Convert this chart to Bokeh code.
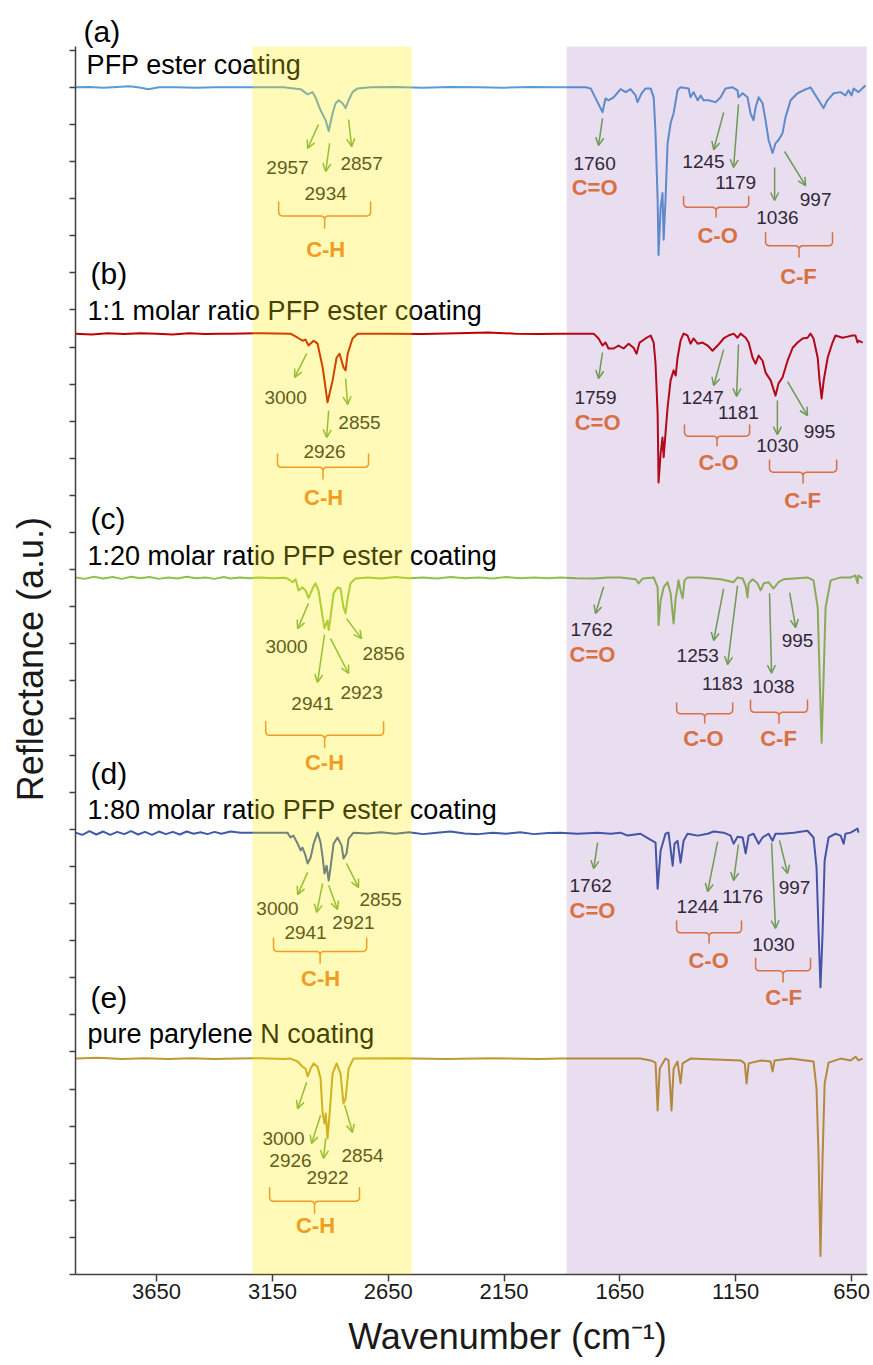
from bokeh.plotting import figure
from bokeh.models import Range1d, FixedTicker, BoxAnnotation, Arrow, OpenHead, Label, ColumnDataSource
from bokeh.core.properties import value
from bokeh.embed import file_html
from bokeh.resources import INLINE

# ---------------- data (wavenumber cm-1, reflectance a.u., each trace with baseline ~100) ----------------
trace_a = [(4000,100),(3940,100.1),(3880,99.9),(3820,100.1),(3771,100.3),(3730,100),(3685,99.5),(3640,100),(3560,100),(3480,99.9),(3400,100),(3331,100),(3250,100),(3170,100),(3102,100),(3028,99.5),(2998,98.1),(2977,98.7),(2964,97.3),(2942,93.8),(2920,91.1),(2907,88.2),(2890,93.0),(2877,95.7),(2864,96.5),(2847,95.7),(2834,94.4),(2821,96.5),(2804,98.7),(2782,99.7),(2726,100),(2620,100.1),(2500,99.9),(2380,100.1),(2260,100),(2150,99.9),(2030,100.1),(1940,100),(1880,100),(1798,100),(1776,99.7),(1725,93.3),(1712,97.0),(1699,96.5),(1677,97.3),(1647,99.5),(1625,98.7),(1604,99.5),(1582,97.8),(1574,96.0),(1556,98.4),(1539,99.7),(1517,99.7),(1504,97.3),(1496,87.6),(1487,69.6),(1483,54.8),(1474,67.7),(1466,71.5),(1461,58.9),(1453,69.6),(1444,84.9),(1431,90.3),(1418,93.0),(1401,99.2),(1388,100),(1353,99.7),(1345,97.3),(1332,98.7),(1314,96.5),(1301,97.8),(1289,96.5),(1267,96.5),(1237,96.0),(1215,97.3),(1194,99.7),(1163,100),(1142,99.2),(1138,97.3),(1120,98.4),(1099,97.3),(1086,93.0),(1073,91.1),(1064,94.6),(1051,97.3),(1034,95.7),(1021,91.1),(1008,85.8),(991,82.3),(978,84.9),(965,85.8),(948,87.6),(935,91.9),(913,96.5),(883,98.4),(857,99.2),(827,100),(814,98.7),(792,96.5),(771,94.4),(754,96.5),(727,98.4),(697,98.7),(676,97.8),(663,99.2),(650,97.8),(641,99.7),(620,98.7),(598,100),(590,100.5)]

trace_b = [(4000,100),(3930,99.8),(3860,100.1),(3790,99.9),(3720,100.1),(3650,100),(3580,99.8),(3510,100.1),(3440,99.9),(3370,100),(3331,100),(3200,100.1),(3072,100),(3041,98.9),(3020,98.1),(3007,98.4),(2994,96.8),(2972,98.1),(2955,97.3),(2933,90.9),(2912,81.5),(2890,87.4),(2873,93.5),(2860,94.6),(2843,90.9),(2834,90.1),(2825,94.6),(2804,98.7),(2782,100),(2650,100),(2500,99.9),(2350,100.1),(2221,100.3),(2100,100),(2000,99.9),(1906,100),(1763,100),(1742,98.7),(1725,96.8),(1712,97.6),(1699,96.0),(1677,96.0),(1656,96.8),(1634,96.0),(1612,97.3),(1591,96.2),(1578,94.6),(1565,97.6),(1539,98.7),(1517,99.5),(1504,97.6),(1496,91.9),(1487,78.5),(1483,59.9),(1474,67.7),(1466,72.0),(1461,66.7),(1453,73.1),(1444,80.1),(1431,87.4),(1418,90.1),(1409,88.7),(1401,93.5),(1388,98.1),(1375,100),(1358,99.5),(1345,97.3),(1332,98.7),(1314,97.3),(1293,97.6),(1271,96.8),(1250,95.4),(1228,96.8),(1202,98.7),(1181,99.5),(1159,100),(1142,98.9),(1129,100),(1107,98.9),(1094,97.6),(1077,93.5),(1064,91.9),(1051,94.1),(1034,92.7),(1021,89.5),(999,87.4),(978,83.3),(965,86.6),(948,88.2),(926,92.7),(904,96.2),(883,97.6),(861,98.7),(840,98.9),(827,100),(814,98.7),(796,93.5),(788,87.4),(779,82.5),(770,87.4),(753,93.5),(732,97.6),(719,99.5),(689,98.9),(667,99.2),(646,99.5),(633,99.5),(624,97.6),(620,98.1),(602,97.6)]

trace_c = [(4000,100),(3960,99.6),(3920,100.2),(3880,99.7),(3840,100.1),(3800,99.6),(3760,100.2),(3720,99.8),(3680,100.1),(3640,99.6),(3600,100),(3560,99.7),(3520,100.2),(3480,99.8),(3440,100),(3400,99.6),(3360,100.1),(3331,99.7),(3290,100),(3250,99.8),(3200,100),(3150,99.8),(3100,99.9),(3085,99.7),(3063,98.7),(3050,99.5),(3037,96.5),(3020,97.3),(3007,96.5),(2994,94.4),(2977,97.0),(2964,98.4),(2951,96.5),(2933,89.2),(2925,86.3),(2912,88.4),(2907,85.8),(2899,89.2),(2886,95.7),(2869,97.3),(2856,97.0),(2843,91.9),(2834,90.3),(2825,94.4),(2813,98.4),(2791,99.7),(2740,100),(2680,99.7),(2620,100.1),(2560,99.8),(2500,100),(2440,99.7),(2380,100.1),(2320,99.8),(2260,100),(2200,99.7),(2140,100.1),(2080,99.8),(2020,100),(1960,99.8),(1906,100),(1840,99.8),(1763,99.7),(1700,100),(1647,100),(1582,99.5),(1569,98.4),(1552,99.7),(1504,100),(1487,97.3),(1483,87.1),(1474,93.8),(1461,97.3),(1444,98.7),(1431,95.7),(1418,87.6),(1409,94.4),(1401,97.3),(1397,99.2),(1388,96.5),(1379,94.4),(1371,99.2),(1358,100),(1301,100),(1215,99.5),(1159,98.7),(1142,100),(1120,99.7),(1107,97.8),(1099,94.6),(1094,98.4),(1077,99.5),(1056,98.4),(1042,96.5),(1029,98.4),(1008,98.7),(987,97.0),(965,98.7),(943,99.5),(900,99.7),(840,100),(814,99.2),(796,91.9),(788,74.2),(779,55.4),(770,74.2),(762,91.9),(740,99.2),(697,100),(654,100),(633,100.5),(624,98.4),(620,100.5),(602,99.7)]

trace_d = [(4000,100),(3970,99.4),(3940,100.4),(3910,99.5),(3880,100.3),(3850,99.4),(3820,100.2),(3790,99.6),(3760,100.4),(3730,99.5),(3700,100.2),(3670,99.4),(3640,100.3),(3610,99.6),(3580,100.2),(3550,99.5),(3520,100.3),(3490,99.7),(3460,100.1),(3430,99.6),(3400,100.2),(3370,99.7),(3331,100.3),(3287,100),(3188,100),(3085,100),(3072,98.7),(3059,99.2),(3041,97.0),(3028,95.2),(3020,96.0),(3007,93.8),(2998,91.7),(2985,93.3),(2972,97.0),(2955,100),(2942,97.3),(2933,93.3),(2925,89.0),(2916,91.1),(2907,87.1),(2899,90.6),(2886,97.0),(2869,98.7),(2851,96.5),(2843,93.0),(2830,94.4),(2821,98.4),(2800,100),(2740,99.8),(2680,100.1),(2620,99.7),(2560,100.1),(2500,99.6),(2440,100),(2381,100.3),(2320,99.8),(2260,99.6),(2200,100),(2140,99.7),(2080,100.1),(2020,99.6),(1960,99.9),(1906,100),(1833,99.7),(1746,100),(1690,99.7),(1647,100),(1617,99.2),(1561,99.7),(1526,98.4),(1496,97.3),(1487,84.9),(1474,95.2),(1453,99.7),(1440,100),(1422,91.1),(1414,97.0),(1401,97.8),(1388,91.9),(1375,97.8),(1358,99.7),(1314,99.2),(1271,99.7),(1245,100.3),(1202,100),(1172,99.2),(1159,97.0),(1142,98.9),(1120,98.7),(1107,94.4),(1094,99.2),(1073,99.7),(1051,97.0),(1034,98.7),(1008,99.7),(991,97.8),(978,99.7),(948,99.7),(900,100),(840,100.5),(814,98.7),(801,90.6),(792,72.8),(784,58.3),(775,72.8),(766,92.5),(749,98.7),(719,99.7),(697,99.2),(684,97.0),(676,99.7),(654,100),(624,101.1),(620,100)]

trace_e = [(4000,100),(3900,100.2),(3800,99.9),(3700,100.1),(3600,99.9),(3500,100.1),(3400,99.9),(3300,100),(3200,100.1),(3100,99.9),(3072,100),(3041,99.2),(3020,97.8),(3007,97.3),(2998,95.2),(2985,97.3),(2972,98.7),(2955,97.8),(2942,94.6),(2933,85.2),(2925,82.5),(2920,85.2),(2912,78.5),(2903,85.2),(2890,96.0),(2873,98.7),(2856,96.0),(2843,87.9),(2834,89.2),(2821,97.3),(2800,100),(2600,100.1),(2400,99.9),(2200,100.1),(2000,99.9),(1906,100),(1561,100),(1517,99.5),(1496,98.9),(1487,86.0),(1478,97.3),(1453,100),(1440,99.5),(1427,86.0),(1418,97.3),(1401,99.2),(1388,93.3),(1379,98.7),(1345,100),(1129,99.5),(1111,98.7),(1103,93.3),(1094,98.7),(1042,99.5),(999,99.2),(991,96.5),(982,99.5),(913,100),(814,99.2),(801,91.9),(792,73.1),(784,46.8),(775,73.1),(766,93.3),(749,98.9),(697,100),(654,99.5),(633,100.5),(620,99.5),(602,100)]

trace_offsets = [220.0, 153.6, 87.9, 19.1, -41.8]
trace_colors = ["#5B9BD5", "#C00000", "#8FC24A", "#3E5BA9", "#C09A2E"]

x_ticks = [3650, 3150, 2650, 2150, 1650, 1150, 650]

# panel letters and captions (wavenumber, y)
panel_letters = [("(a)", 3965, 335.0), ("(b)", 3935, 269.8), ("(c)", 3935, 203.8), ("(d)", 3935, 135.0), ("(e)", 3935, 74.7)]
panel_captions = [("PFP ester coating", 3952, 326.1), ("1:1 molar ratio PFP ester coating", 3948, 259.6),
                  ("1:20 molar ratio PFP ester coating", 3948, 193.8), ("1:80 molar ratio PFP ester coating", 3948, 125.1),
                  ("pure parylene N coating", 3948, 64.7)]

# arrows (x0, y0, x1, y1), peak numbers, group names, brackets (x_left, x_right, y_top, y_bottom)
arrows = [
    (2951,310.0,2998,303.5),(2903,304.9,2920,297.3),(2821,311.3,2808,304.0),(1725,311.6,1742,304.3),(1202,313.2,1245,303.2),(1138,315.4,1159,298.4),(982,298.4,982,289.5),(939,302.7,848,293.5),
    (3002,248.2,3054,241.8),(2907,232.9,2916,225.6),(2834,241.5,2825,234.5),(1725,248.5,1742,241.5),(1202,249.3,1245,239.6),(1138,250.7,1146,236.7),(970,235.6,970,226.4),(926,240.7,840,231.5),
    (2994,180.9,3041,174.1),(2925,172.5,2955,159.6),(2899,171.4,2821,162.0),(2830,176.8,2765,171.4),(1720,185.4,1755,178.2),(1202,184.9,1245,170.9),(1142,185.7,1185,164.4),(1004,183.6,995,162.1),(917,183.8,891,174.4),
    (2998,108.4,3041,102.4),(2933,105.4,2959,97.6),(2907,104.9,2869,98.4),(2830,110.8,2778,104.3),(1746,116.4,1763,109.4),(1228,116.7,1271,103.2),(1138,115.9,1159,106.2),(995,116.4,978,93.3),(961,117.0,926,108.1),
    (3002,51.8,3041,44.7),(2942,42.9,2981,35.3),(2920,36.7,2929,31.3),(2838,45.6,2804,38.3),
]
peak_numbers = [
    (3085,298.4,"2957"),(2765,299.5,"2857"),(2920,291.4,"2934"),(1759,299.5,"1760"),(1289,300.0,"1245"),(1150,294.3,"1179"),(970,284.9,"1036"),(805,289.8,"997"),
    (3093,236.4,"3000"),(2925,221.8,"2926"),(2774,229.6,"2855"),(1755,236.4,"1759"),(1293,236.4,"1247"),(1138,232.3,"1181"),(970,223.5,"1030"),(788,227.2,"995"),
    (3089,169.3,"3000"),(2977,153.9,"2941"),(2765,156.9,"2923"),(2670,167.4,"2856"),(1772,173.9,"1762"),(1314,166.8,"1253"),(1207,159.3,"1183"),(987,158.5,"1038"),(883,170.9,"995"),
    (3128,98.7,"3000"),(3007,92.2,"2941"),(2800,94.9,"2921"),(2683,101.1,"2855"),(1776,104.9,"1762"),(1314,99.2,"1244"),(1120,101.9,"1176"),(987,88.9,"1030"),(896,104.3,"997"),
    (3102,36.7,"3000"),(3072,30.7,"2926"),(2761,32.1,"2854"),(2912,26.1,"2922"),
]
group_names = [
    (2920,276.3,"C-H"),(1759,292.9,"C=O"),(1228,280.0,"C-O"),(879,269.0,"C-F"),
    (2929,209.4,"C-H"),(1746,229.6,"C=O"),(1224,218.9,"C-O"),(861,208.6,"C-F"),
    (2925,138.0,"C-H"),(1768,167.1,"C=O"),(1289,144.5,"C-O"),(965,144.5,"C-F"),
    (2942,79.8,"C-H"),(1768,98.1,"C=O"),(1267,84.6,"C-O"),(943,74.7,"C-F"),
    (2964,13.2,"C-H"),
]
brackets = [
    (3123,2726,289.2,281.9),(1375,1094,290.8,284.9),(1021,732,280.9,274.1),
    (3128,2735,221.3,214.3),(1371,1090,229.1,223.2),(1004,714,219.7,213.2),
    (3179,2670,149.1,142.0),(1405,1163,154.2,148.5),(1086,840,155.0,148.5),
    (3145,2743,90.8,83.8),(1405,1125,95.4,89.2),(1064,827,85.4,78.7),
    (3162,2774,23.5,16.4),
]

band_ch = (3236, 2549)
band_fp = (1880, 584)
y_axis_top = 331

# ---------------- figure ----------------
FONT = "Liberation Sans"
p = figure(width=873, height=1365, x_range=Range1d(4000, 581), y_range=Range1d(0, 343.4),
           output_backend="svg", toolbar_location=None,
           min_border_left=75, min_border_right=6, min_border_top=0, min_border_bottom=91)
p.outline_line_color = None
p.grid.visible = False

# axes
p.xaxis.ticker = FixedTicker(ticks=x_ticks)
p.xaxis.minor_tick_line_color = None
p.xaxis.major_tick_out = 7
p.xaxis.major_tick_in = 0
p.xaxis.major_label_standoff = 2
p.xaxis.major_label_text_font = FONT
p.xaxis.major_label_text_font_size = "22px"
p.xaxis.major_label_text_color = "#1a1a1a"
p.xaxis.axis_line_color = "#404040"
p.xaxis.axis_line_width = 1.5
p.xaxis.major_tick_line_color = "#404040"
p.xaxis.major_tick_line_width = 1.5
p.xaxis.axis_label = "\u2002\u2002\u2002\u2002Wavenumber (cm\u207b\u00b9)"
p.xaxis.axis_label_text_font = FONT
p.xaxis.axis_label_text_font_size = "36px"
p.xaxis.axis_label_text_font_style = "normal"
p.xaxis.axis_label_text_color = "#1a1a1a"
p.xaxis.axis_label_standoff = 14

yt = list(range(0, y_axis_top, 10))
p.yaxis.ticker = FixedTicker(ticks=yt)
p.yaxis.bounds = (0, y_axis_top)
p.yaxis.minor_tick_line_color = None
p.yaxis.major_tick_out = 6
p.yaxis.major_tick_in = 0
p.yaxis.major_label_overrides = {t: "" for t in yt}
p.yaxis.major_label_text_color = None
p.yaxis.axis_line_color = "#404040"
p.yaxis.axis_line_width = 1.5
p.yaxis.major_tick_line_color = "#404040"
p.yaxis.major_tick_line_width = 1.5
p.yaxis.axis_label = "Reflectance (a.u.)\u2002\u2002\u2009"
p.yaxis.axis_label_text_font = FONT
p.yaxis.axis_label_text_font_size = "36px"
p.yaxis.axis_label_text_font_style = "normal"
p.yaxis.axis_label_text_color = "#1a1a1a"
p.yaxis.axis_label_standoff = 19

# spectra
for tr, off, col in zip([trace_a, trace_b, trace_c, trace_d, trace_e], trace_offsets, trace_colors):
    xs = [w for w, r in tr]
    ys = [r + off for w, r in tr]
    p.line(xs, ys, line_color=col, line_width=2, line_join="round")

# panel letters / captions
for t, x, y in panel_letters:
    p.add_layout(Label(x=x, y=y, text=t, text_align="left", text_baseline="middle",
                       text_font=FONT, text_font_size="30px", text_color="#000000"))
for t, x, y in panel_captions:
    p.add_layout(Label(x=x, y=y, text=t, text_align="left", text_baseline="middle",
                       text_font=FONT, text_font_size="27px", text_color="#000000"))

# arrows
GREEN = "#70AD47"
asrc = ColumnDataSource(dict(x0=[a[0] for a in arrows], y0=[a[1] for a in arrows],
                             x1=[a[2] for a in arrows], y1=[a[3] for a in arrows]))
p.add_layout(Arrow(end=OpenHead(size=8, line_color=GREEN, line_width=1.5),
                   x_start="x0", y_start="y0", x_end="x1", y_end="y1", source=asrc,
                   line_color=GREEN, line_width=1.5))

# brackets
WN_PX = 4.317
Y_PX = 1 / 3.71
bxs, bys = [], []
for xl, xr, ytp, yb in brackets:
    yh = ytp - 0.53 * (ytp - yb)
    xm = (xl + xr) / 2
    d, e = WN_PX, Y_PX
    bxs.append([xl, xl, xl - 1 * d, xl - 3 * d, xm + 3 * d, xm + 1 * d, xm, xm])
    bys.append([ytp, yh + 3 * e, yh + 1 * e, yh, yh, yh - 1 * e, yh - 3 * e, yb])
    bxs.append([xr, xr, xr + 1 * d, xr + 3 * d, xm - 3 * d, xm - 1 * d, xm])
    bys.append([ytp, yh + 3 * e, yh + 1 * e, yh, yh, yh - 1 * e, yh - 3 * e])
p.multi_line(bxs, bys, line_color="#ED7D31", line_width=1.5)

# numbers and group names
nsrc = ColumnDataSource(dict(x=[n[0] for n in peak_numbers], y=[n[1] for n in peak_numbers], t=[n[2] for n in peak_numbers]))
p.text(x="x", y="y", text="t", source=nsrc, text_align="center", text_baseline="middle",
       text_font=value(FONT), text_font_size="19px", text_color="#262626")
gsrc = ColumnDataSource(dict(x=[g[0] for g in group_names], y=[g[1] for g in group_names], t=[g[2] for g in group_names]))
p.text(x="x", y="y", text="t", source=gsrc, text_align="center", text_baseline="middle",
       text_font=value(FONT), text_font_size="22px", text_font_style="bold", text_color="#ED7D31")

# highlighted bands drawn on top
p.add_layout(BoxAnnotation(left=band_ch[0], right=band_ch[1], bottom=0, top=y_axis_top,
                           fill_color="#FFEE00", fill_alpha=0.28, line_color=None, level="overlay"))
p.add_layout(BoxAnnotation(left=band_fp[0], right=band_fp[1], bottom=0, top=y_axis_top,
                           fill_color="#7030A0", fill_alpha=0.16, line_color=None, level="overlay"))

open("out.html", "w").write(file_html(p, INLINE))
